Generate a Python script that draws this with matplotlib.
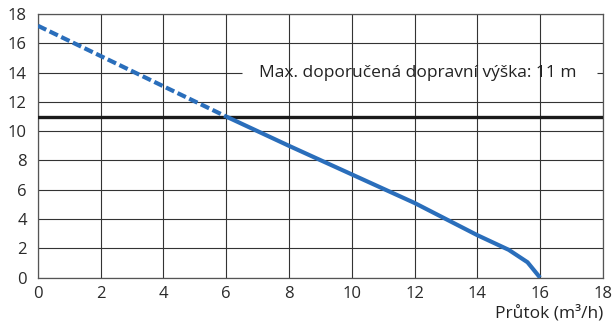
import matplotlib
matplotlib.use("Agg")
import matplotlib.pyplot as plt

# Pump curve: flow (m3/h) vs head (m)
flow_dashed = [0, 6]
head_dashed = [17.2, 11]
flow_solid = [6, 8, 10, 12, 14, 15, 15.6, 16]
head_solid = [11, 9, 7.05, 5.1, 2.9, 1.9, 1.05, 0]
max_head = 11
label_text = "Max. doporučená dopravní výška: 11 m"
label_y = 14
ticks = list(range(0, 19, 2))

plt.rcParams["font.family"] = ["Open Sans", "DejaVu Sans"]

fig = plt.figure(figsize=(6.12, 3.27), dpi=100)
ax = fig.add_axes([0.062, 0.151, 0.923, 0.806])

blue = "#2a6ebb"
grid_col = "#333333"
ax.plot(flow_dashed, head_dashed, color=blue, lw=3, ls=(0, (2.2, 0.9)),
        solid_capstyle="butt", zorder=4)
ax.plot(flow_solid, head_solid, color=blue, lw=3, solid_capstyle="butt",
        solid_joinstyle="miter", zorder=4)
ax.axhline(max_head, color="#1a1a1a", lw=2.4, zorder=3)

ax.set_xlim(0, 18)
ax.set_ylim(0, 18)
ax.set_xticks(ticks)
ax.set_yticks(ticks)
ax.grid(True, color=grid_col, lw=0.8)
ax.set_axisbelow(True)
# gridline at 14 is broken by the label
ax.yaxis.get_gridlines()[ticks.index(label_y)].set_visible(False)
ax.hlines([label_y, label_y], [0, 17.8], [6.5, 18], color=grid_col, lw=0.8, zorder=0.5)

for spine in ax.spines.values():
    spine.set_color("#555555")
    spine.set_linewidth(0.9)
ax.tick_params(length=0, labelsize=12, colors="#2a2a2a")
ax.tick_params(axis="y", pad=8)
ax.tick_params(axis="x", pad=6)

ax.text(7.05, label_y, label_text, ha="left", va="center", fontsize=12.5,
        color="#222222", zorder=5)

fig.text(0.985, 0.042, "Průtok (m³/h)", ha="right", va="center",
         fontsize=12.5, color="#222222")

fig.savefig("out.png", dpi=100)
